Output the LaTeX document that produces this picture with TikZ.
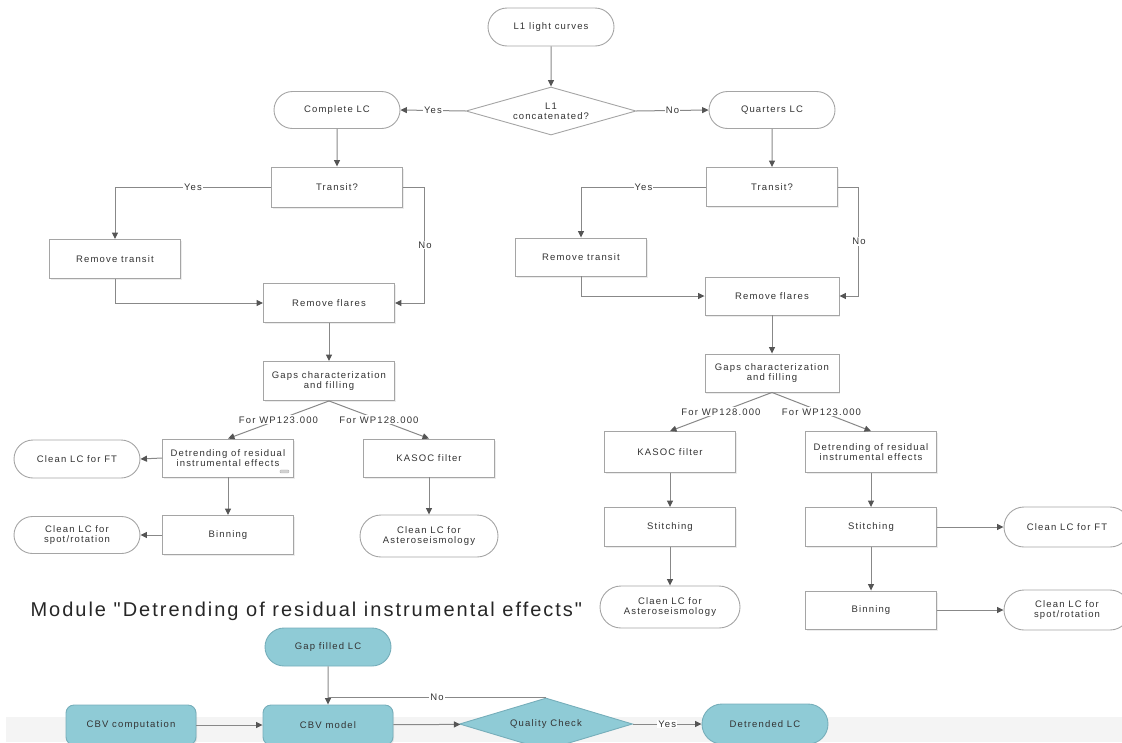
\documentclass[tikz,border=0pt]{standalone}
\usepackage{fontspec}
\setmainfont[LetterSpace=12]{Liberation Sans}
\newfontfamily\titlefont[LetterSpace=10, Ligatures=TeXOff]{Liberation Sans}
\usepackage{xcolor}
\usetikzlibrary{positioning, shapes.geometric, shapes.misc, arrows.meta, calc, shadows}
\definecolor{lnclr}{HTML}{888888}
\definecolor{tipclr}{HTML}{555555}
\definecolor{edgeclr}{HTML}{A5A5A5}
\definecolor{txtclr}{HTML}{333333}
\definecolor{tealfill}{HTML}{8FCBD6}
\definecolor{tealedge}{HTML}{76AEBA}
\definecolor{bandclr}{HTML}{F4F4F4}

\begin{document}
\begin{tikzpicture}[
          x=1pt, y=-1pt,
          every node/.style={text=txtclr, font=\fontsize{9.5}{10}\selectfont},
          box/.style={draw=edgeclr, fill=#1, line width=0.9pt, minimum width=131pt, minimum height=39pt, align=center, inner sep=2pt, drop shadow={shadow xshift=1pt, shadow yshift=-1.5pt, opacity=0.15}},
          box/.default=white,
          term/.style={draw=edgeclr, fill=#1, line width=0.9pt, rounded rectangle, minimum width=130pt, minimum height=38pt, align=center, inner sep=2pt},
          term/.default=white,
          dec/.style={draw=edgeclr, fill=#1, line width=0.9pt, diamond, aspect=3.5, inner sep=0pt, minimum width=170pt, minimum height=48pt, align=center},
          dec/.default=white,
          arr/.style={-{Triangle[length=6.5pt, width=6pt, color=tipclr]}, lnclr, line width=1pt},
          ln/.style={lnclr, line width=1pt},
          lbl/.style={fill=white, inner sep=1pt, midway}
        ]
        \useasboundingbox (0,0) rectangle (1122,742);
        \clip (0,0) rectangle (1122,742);
        \fill[bandclr] (6,717) rectangle (1122,742);

        \node[term] (l1) at (551,27) {L1 light curves};
        \node[dec] (concat) at (551,111) {L1\\concatenated?};
        \node[term, minimum height=37pt] (complete) at (337,110) {Complete LC};
        \node[term, minimum height=37pt] (quarters) at (772,110) {Quarters LC};

        \node[box, minimum height=40pt] (transitA) at (337,187) {Transit?};
        \node[box] (remtrA) at (115,259) {Remove transit};
        \node[box] (flaresA) at (329,303) {Remove flares};
        \node[box] (gapsA) at (329,381) {Gaps characterization\\and filling};
        \node[box, minimum height=38pt] (detA) at (228,458) {Detrending of residual\\instrumental effects};
        \node[box, minimum height=38pt] (kasocA) at (429,458) {KASOC filter};
        \node[box] (binA) at (228,535) {Binning};
        \node[term] (ftA) at (77,459) {Clean LC for FT};
        \node[term, minimum height=37pt] (spotA) at (77,535) {Clean LC for\\spot/rotation};
        \node[term, minimum width=142pt, minimum height=42pt] (asteroA) at (429,536) {Clean LC for\\Asteroseismology};

        \node[box] (transitB) at (772,187) {Transit?};
        \node[box, minimum height=38pt] (remtrB) at (581,257) {Remove transit};
        \node[box, minimum width=134pt, minimum height=38pt] (flaresB) at (772,296) {Remove flares};
        \node[box, minimum width=134pt, minimum height=38pt] (gapsB) at (772,373) {Gaps characterization\\and filling};
        \node[box, minimum height=41pt] (kasocB) at (670,452) {KASOC filter};
        \node[box, minimum height=41pt] (detB) at (871,452) {Detrending of residual\\instrumental effects};
        \node[box] (stitchB1) at (670,527) {Stitching};
        \node[box] (stitchB2) at (871,527) {Stitching};
        \node[term, minimum width=144pt, minimum height=42pt] (asteroB) at (670,607) {Claen LC for\\Asteroseismology};
        \node[box, minimum height=38pt] (binB) at (871,610) {Binning};
        \node[term, minimum height=40pt] (ftB) at (1067,527) {Clean LC for FT};
        \node[term, minimum height=40pt] (spotB) at (1067,610) {Clean LC for\\spot/rotation};

        \node[anchor=west, text=black!85, font=\titlefont\fontsize{20}{22}\selectfont] (modtitle) at (27,611) {Module "Detrending of residual instrumental effects"};
        \node[term=tealfill, draw=tealedge] (gapfill) at (328,647) {Gap filled LC};
        \node[box=tealfill, draw=tealedge, rounded corners=8pt, minimum width=130pt, minimum height=40pt, drop shadow={opacity=0}] (cbvcomp) at (131,725) {CBV computation};
        \node[box=tealfill, draw=tealedge, rounded corners=8pt, minimum width=130pt, minimum height=40pt, drop shadow={opacity=0}] (cbvmod) at (328,725) {CBV model};
        \node[dec=tealfill, draw=tealedge, aspect=3.3, minimum width=173pt, minimum height=52pt] (qc) at (546,724) {Quality Check};
        \node[term=tealfill, draw=tealedge, minimum height=40pt] (detr) at (765,724) {Detrended LC};

        \draw[fill=gray!35, draw=gray!60, line width=0.4pt, rounded corners=1pt] ($(detA.south east)+(-14,-7.5)$) rectangle ++(9,3);

        \draw[arr] (l1) -- (concat);
        \draw[arr] (concat.west) -- node[lbl] {Yes} (complete.east);
        \draw[arr] (concat.east) -- node[lbl] {No} (quarters.west);

        \draw[arr] (complete) -- (transitA);
        \draw[arr] (transitA.west) -| node[lbl, pos=0.25] {Yes} (remtrA.north);
        \draw[arr] (transitA.east) -- ++(22,0) |- node[lbl, pos=0.25] {No} (flaresA.east);
        \draw[arr] (remtrA.south) |- (flaresA.west);
        \draw[arr] (flaresA) -- (gapsA);
        \draw[arr] (gapsA.south) -- node[lbl] {For WP123.000} (detA.north);
        \draw[arr] (gapsA.south) -- node[lbl] {For WP128.000} (kasocA.north);
        \draw[arr] (detA.west) -- (ftA.east);
        \draw[arr] (detA) -- (binA);
        \draw[arr] (binA.west) -- (spotA.east);
        \draw[arr] (kasocA) -- (asteroA);

        \draw[arr] (quarters) -- (transitB);
        \draw[arr] (transitB.west) -| node[lbl, pos=0.25] {Yes} (remtrB.north);
        \draw[arr] (transitB.east) -- ++(21,0) |- node[lbl, pos=0.25] {No} (flaresB.east);
        \draw[arr] (remtrB.south) |- (flaresB.west);
        \draw[arr] (flaresB) -- (gapsB);
        \draw[arr] (gapsB.south) -- node[lbl] {For WP128.000} (kasocB.north);
        \draw[arr] (gapsB.south) -- node[lbl] {For WP123.000} (detB.north);
        \draw[arr] (kasocB) -- (stitchB1);
        \draw[arr] (stitchB1) -- (asteroB);
        \draw[arr] (detB) -- (stitchB2);
        \draw[arr] (stitchB2) -- (binB);
        \draw[arr] (stitchB2.east) -- (ftB.west);
        \draw[arr] (binB.east) -- (spotB.west);

        \draw[arr] (gapfill) -- (cbvmod);
        \draw[arr] (cbvcomp) -- (cbvmod);
        \draw[arr] (cbvmod) -- (qc);
        \draw[arr] (qc.east) -- node[lbl] {Yes} (detr.west);
        \draw[ln] (qc.north) -- node[lbl] {No} (qc.north -| cbvmod);
        \end{tikzpicture}
\end{document}
